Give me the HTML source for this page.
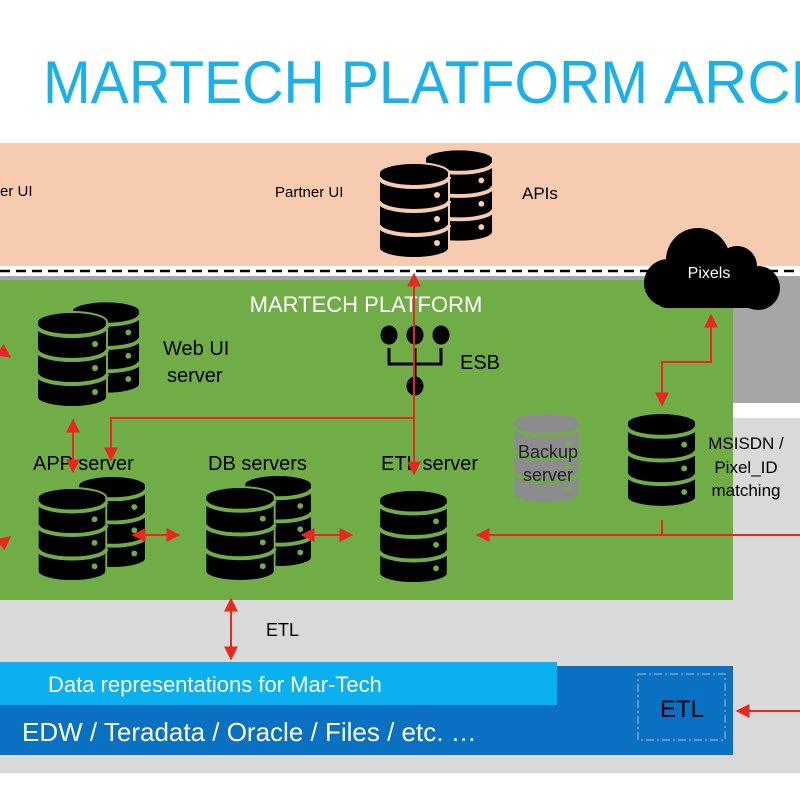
<!DOCTYPE html>
<html><head><meta charset="utf-8"><style>
html,body{margin:0;padding:0;background:#fff;}
svg{display:block;font-family:"Liberation Sans Narrow","Liberation Sans",sans-serif;}
</style></head><body>
<svg width="800" height="800" viewBox="0 0 800 800" xmlns="http://www.w3.org/2000/svg">
<defs>
<symbol id="db" viewBox="0 0 70 95" overflow="visible">
  <path d="M0,10 A35,10 0 0 1 70,10 L70,85 A35,10 0 0 1 0,85 Z" fill="#000" stroke="currentColor" stroke-width="2"/>
  <path d="M0,14 A35,10 0 0 0 70,14" fill="none" stroke="currentColor" stroke-width="4"/>
  <path d="M0,38 A35,10 0 0 0 70,38" fill="none" stroke="currentColor" stroke-width="4"/>
  <path d="M0,62 A35,10 0 0 0 70,62" fill="none" stroke="currentColor" stroke-width="4"/>
  <circle cx="58" cy="32" r="3" fill="currentColor"/>
  <circle cx="58" cy="56" r="3" fill="currentColor"/>
  <circle cx="58" cy="80" r="3" fill="currentColor"/>
</symbol>
<symbol id="dbg" viewBox="0 0 70 95" overflow="visible">
  <path d="M0,10 A35,10 0 0 1 70,10 L70,85 A35,10 0 0 1 0,85 Z" fill="#8c8c8c" stroke="#70ad47" stroke-width="2"/>
  <path d="M0,14 A35,10 0 0 0 70,14" fill="none" stroke="#70ad47" stroke-width="4"/>
  <path d="M0,38 A35,10 0 0 0 70,38" fill="none" stroke="#70ad47" stroke-width="4"/>
  <path d="M0,62 A35,10 0 0 0 70,62" fill="none" stroke="#70ad47" stroke-width="4"/>
  <circle cx="58" cy="32" r="3" fill="#70ad47"/>
  <circle cx="58" cy="56" r="3" fill="#70ad47"/>
  <circle cx="58" cy="80" r="3" fill="#70ad47"/>
</symbol>
<marker id="ar" viewBox="0 0 10 10" refX="9" refY="5" markerWidth="7" markerHeight="7" orient="auto-start-reverse"><path d="M0,0 L10,5 L0,10 Z" fill="#e8281e"/></marker>
</defs>

<!-- title -->
<text x="43" y="103" font-size="60" fill="#1ab0ea" textLength="605" lengthAdjust="spacingAndGlyphs" font-family="Liberation Sans,sans-serif">MARTECH PLATFORM</text>
<text x="664" y="103" font-size="60" fill="#1ab0ea" textLength="470" lengthAdjust="spacingAndGlyphs" font-family="Liberation Sans,sans-serif">ARCHITECTURE</text>

<!-- backgrounds -->
<rect x="0" y="143" width="800" height="123" fill="#f6cbb0"/>
<rect x="0" y="276" width="800" height="8" fill="#a6a6a6"/>
<rect x="733" y="283" width="67" height="120" fill="#a6a6a6"/>
<rect x="733" y="418" width="67" height="190" fill="#d9d9d9"/>
<rect x="0" y="600" width="800" height="173" fill="#d9d9d9"/>
<rect x="0" y="280" width="733" height="320" fill="#70ad47"/>
<line x1="0" y1="271" x2="800" y2="271" stroke="#000" stroke-width="2.5" stroke-dasharray="10,6"/>

<!-- blue bars -->
<rect x="0" y="666" width="733" height="89" fill="#0a70c2"/>
<rect x="0" y="662" width="557" height="43" fill="#0bb0ef"/>
<text x="48" y="692" font-size="22" fill="#fff">Data representations for Mar-Tech</text>
<text x="22" y="741" font-size="26" fill="#fff">EDW / Teradata / Oracle / Files / etc. …</text>
<rect x="638" y="674" width="87" height="66" fill="none" stroke="#7f9fc0" stroke-width="1.5" stroke-dasharray="8,3,2,3"/>
<text x="682" y="717" font-size="24" fill="#000" text-anchor="middle">ETL</text>

<!-- top stack -->
<use href="#db" x="425" y="148" width="68" height="95" style="color:#f6cbb0"/>
<use href="#db" x="379" y="163" width="70" height="95" style="color:#f6cbb0"/>
<text x="275" y="197" font-size="15" fill="#000">Partner UI</text>
<text x="0" y="196" font-size="15" fill="#000">er UI</text>
<text x="522" y="199" font-size="17" fill="#000">APIs</text>

<!-- cloud -->
<g fill="#000">
<circle cx="668" cy="283" r="24"/>
<circle cx="698" cy="260" r="32"/>
<circle cx="737" cy="266" r="20"/>
<circle cx="758" cy="288" r="22"/>
<rect x="655" y="270" width="113" height="38" rx="12"/>
</g>
<text x="709" y="278" font-size="16" fill="#fff" text-anchor="middle">Pixels</text>

<text x="366" y="312" font-size="22" fill="#fff" text-anchor="middle">MARTECH PLATFORM</text>

<!-- ESB -->
<g fill="#000" stroke="#000">
<ellipse cx="389" cy="335" rx="8" ry="9"/>
<ellipse cx="415" cy="335" rx="8" ry="9"/>
<ellipse cx="441" cy="335" rx="8" ry="9"/>
<path d="M389,348 V364 H441 V348 M415,348 V378" fill="none" stroke-width="3"/>
<ellipse cx="415" cy="386" rx="8" ry="9"/>
</g>
<text x="460" y="369" font-size="20" fill="#000">ESB</text>

<!-- servers -->
<use href="#db" x="72" y="300" width="68" height="95" style="color:#70ad47"/>
<use href="#db" x="37" y="312" width="70" height="95" style="color:#70ad47"/>
<text x="163" y="355" font-size="20" fill="#000">Web UI</text>
<text x="167" y="382" font-size="20" fill="#000">server</text>

<text x="33" y="470" font-size="20" fill="#000">APP server</text>
<use href="#db" x="78" y="476" width="68" height="92" style="color:#70ad47"/>
<use href="#db" x="37" y="488" width="70" height="93" style="color:#70ad47"/>

<text x="208" y="470" font-size="20" fill="#000">DB servers</text>
<use href="#db" x="244" y="475" width="68" height="92" style="color:#70ad47"/>
<use href="#db" x="205" y="487" width="70" height="94" style="color:#70ad47"/>

<text x="381" y="470" font-size="20" fill="#000">ETL server</text>
<use href="#db" x="379" y="490" width="69" height="93" style="color:#70ad47"/>

<use href="#dbg" x="512" y="413" width="69" height="90"/>
<text x="548" y="458" font-size="18" fill="#222" text-anchor="middle">Backup</text>
<text x="548" y="481" font-size="18" fill="#222" text-anchor="middle">server</text>

<use href="#db" x="627" y="413" width="69" height="94" style="color:#70ad47"/>
<text x="746" y="449" font-size="17" fill="#000" text-anchor="middle">MSISDN /</text>
<text x="746" y="473" font-size="17" fill="#000" text-anchor="middle">Pixel_ID</text>
<text x="746" y="496" font-size="17" fill="#000" text-anchor="middle">matching</text>

<text x="266" y="636" font-size="18" fill="#000">ETL</text>

<!-- connectors -->
<g stroke="#e8281e" stroke-width="2" fill="none">
<line x1="414" y1="395" x2="414" y2="274" marker-end="url(#ar)"/>
<line x1="414" y1="380" x2="414" y2="474" marker-end="url(#ar)"/>
<path d="M414,418 H111 V460" marker-end="url(#ar)"/>
<line x1="73" y1="420" x2="73" y2="472" marker-start="url(#ar)" marker-end="url(#ar)"/>
<line x1="133" y1="535" x2="179" y2="535" marker-start="url(#ar)" marker-end="url(#ar)"/>
<line x1="302" y1="535" x2="352" y2="535" marker-start="url(#ar)" marker-end="url(#ar)"/>
<line x1="800" y1="535" x2="477" y2="535" marker-end="url(#ar)"/>
<line x1="662" y1="520" x2="662" y2="535"/>
<path d="M662,405 V362 H711 V315" marker-start="url(#ar)" marker-end="url(#ar)"/>
<line x1="231" y1="599" x2="231" y2="659" marker-start="url(#ar)" marker-end="url(#ar)"/>
<line x1="800" y1="711" x2="737" y2="711" marker-end="url(#ar)"/>
<line x1="0" y1="350" x2="10" y2="357" marker-end="url(#ar)"/>
<line x1="0" y1="545" x2="10" y2="537" marker-end="url(#ar)"/>
</g>
</svg>
</body></html>
